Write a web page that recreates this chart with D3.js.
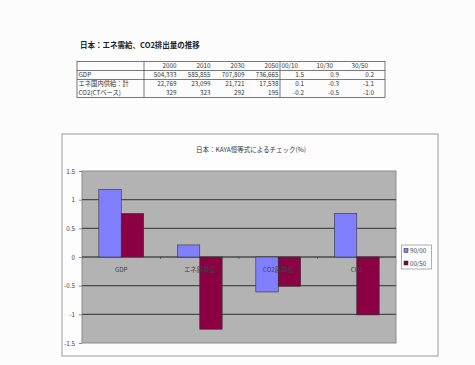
<!DOCTYPE html>
<html>
<head>
<meta charset="utf-8">
<script src="https://cdn.jsdelivr.net/npm/d3@7"></script>
<style>
  html, body { margin: 0; padding: 0; background: #fcfcfc; }
  svg { display: block; }
  text { font-family: "Noto Sans CJK JP", "Noto Sans", sans-serif; }
</style>
</head>
<body>
<svg id="root" width="475" height="365"></svg>
<script>
// ---- Table data ----
const tableTitle = "日本：エネ需給、CO2排出量の推移";
const yearHeaders = ["2000", "2010", "2030", "2050"];
const rateHeaders = ["00/10", "10/30", "30/50"];
const rowLabels = ["GDP", "エネ国内供給：計", "CO2(CTベース)"];
const rowValues = [
  ["504,333", "585,855", "707,809", "736,665"],
  ["22,769", "23,099", "21,721", "17,538"],
  ["329", "323", "292", "195"]
];
const rowRates = [
  ["1.5", "0.9", "0.2"],
  ["0.1", "-0.3", "-1.1"],
  ["-0.2", "-0.5", "-1.0"]
];

// ---- Chart data ----
const chartTitle = "日本：KAYA恒等式によるチェック(%)";
const categories = ["GDP", "エネ原単位", "CO2原単位", "CO2"];
const seriesNames = ["90/00", "00/50"];
const series9000 = [1.18, 0.21, -0.61, 0.76];
const series0050 = [0.76, -1.26, -0.51, -1.01];
const yTicks = [1.5, 1, 0.5, 0, -0.5, -1, -1.5];
const yTickLabels = ["1.5", "1", "0.5", "0", "-0.5", "-1", "-1.5"];
const seriesColors = ["#8080ff", "#8a0042"];

const svg = d3.select("#root");

// ---- Table ----
svg.append("text")
  .attr("x", 80).attr("y", 48)
  .attr("font-size", 7.5).attr("font-weight", "bold").attr("fill", "#222")
  .text(tableTitle);

const tb = svg.append("g").attr("font-size", 6.3).attr("fill", "#333");
const tLeft = 77, tRight = 385, tTop = 61.5;
const rowH = 9;
const colLabelEnd = 144, colYearEnd = 280;
const yearX = d3.scaleBand().domain(yearHeaders).range([colLabelEnd, colYearEnd]);
const rateX = d3.scaleBand().domain(rateHeaders).range([colYearEnd, tRight]);
const rowY = d3.scaleBand().domain(d3.range(rowLabels.length + 1)).range([tTop, tTop + rowH * 4]);

// borders
tb.append("rect")
  .attr("x", tLeft).attr("y", tTop)
  .attr("width", tRight - tLeft).attr("height", rowH * 4)
  .attr("fill", "none").attr("stroke", "#555").attr("stroke-width", 0.8);
[1, 2].forEach(i => {
  tb.append("line")
    .attr("x1", tLeft).attr("x2", tRight)
    .attr("y1", rowY(i)).attr("y2", rowY(i))
    .attr("stroke", "#555").attr("stroke-width", 0.8);
});
[colLabelEnd, colYearEnd].forEach(x => {
  tb.append("line")
    .attr("x1", x).attr("x2", x)
    .attr("y1", tTop).attr("y2", tTop + rowH * 4)
    .attr("stroke", "#555").attr("stroke-width", 0.8);
});

const baseOff = rowH * 0.75;
// header row
yearHeaders.forEach(h => {
  tb.append("text").attr("x", yearX(h) + yearX.bandwidth() - 1.5)
    .attr("y", rowY(0) + baseOff).attr("text-anchor", "end").text(h);
});
rateHeaders.forEach(h => {
  tb.append("text").attr("x", rateX(h) + 1.5)
    .attr("y", rowY(0) + baseOff).text(h);
});
// body rows
rowLabels.forEach((lab, i) => {
  const y = rowY(i + 1) + baseOff;
  tb.append("text").attr("x", tLeft + 1.5).attr("y", y).text(lab);
  rowValues[i].forEach((v, j) => {
    tb.append("text").attr("x", yearX(yearHeaders[j]) + yearX.bandwidth() - 1.5)
      .attr("y", y).attr("text-anchor", "end").text(v);
  });
  rowRates[i].forEach((v, j) => {
    tb.append("text").attr("x", rateX(rateHeaders[j]) + 24)
      .attr("y", y).attr("text-anchor", "end").text(v);
  });
});

// ---- Chart ----
const box = { x: 62, y: 134, w: 376, h: 222 };
svg.append("rect")
  .attr("x", box.x).attr("y", box.y).attr("width", box.w).attr("height", box.h)
  .attr("fill", "#fdfdfd").attr("stroke", "#9a9a9a").attr("stroke-width", 1);

svg.append("text")
  .attr("x", 251).attr("y", 151.5).attr("text-anchor", "middle")
  .attr("font-size", 6.5).attr("fill", "#333")
  .text(chartTitle);

const plot = { l: 82, r: 396, t: 171, b: 343 };
const x = d3.scaleBand().domain(categories).range([plot.l, plot.r]);
const xs = d3.scaleBand().domain(seriesNames).range([0, x.bandwidth()]).paddingOuter(0.75);
const y = d3.scaleLinear().domain([-1.5, 1.5]).range([plot.b, plot.t]);

svg.append("rect")
  .attr("x", plot.l).attr("y", plot.t)
  .attr("width", plot.r - plot.l).attr("height", plot.b - plot.t)
  .attr("fill", "#b3b3b3").attr("stroke", "#8c8c8c").attr("stroke-width", 1);

// gridlines
svg.append("g").selectAll("line")
  .data(yTicks.filter(v => v > -1.5 && v < 1.5))
  .join("line")
  .attr("x1", plot.l).attr("x2", plot.r)
  .attr("y1", d => y(d)).attr("y2", d => y(d))
  .attr("stroke", "#4a4a4a").attr("stroke-width", 1.3);

// y axis
const yAxis = svg.append("g")
  .attr("transform", `translate(${plot.l},0)`)
  .call(d3.axisLeft(y).tickValues(yTicks)
    .tickFormat((d, i) => yTickLabels[i]).tickSize(3).tickPadding(4));
yAxis.select(".domain").remove();
yAxis.selectAll(".tick line").attr("stroke", "#888");
yAxis.selectAll("text").attr("font-size", 6.3).attr("fill", "#444")
  .attr("font-family", "\"Noto Sans CJK JP\", sans-serif");

// bars
const allSeries = [series9000, series0050];
const bars = svg.append("g");
allSeries.forEach((vals, si) => {
  bars.selectAll(null)
    .data(vals.map((v, ci) => ({ v, c: categories[ci] })))
    .join("rect")
    .attr("x", d => x(d.c) + xs(seriesNames[si]))
    .attr("width", xs.bandwidth())
    .attr("y", d => y(Math.max(0, d.v)))
    .attr("height", d => Math.abs(y(d.v) - y(0)))
    .attr("fill", seriesColors[si])
    .attr("stroke", "#333").attr("stroke-width", 0.6);
});

// category axis tick marks at band boundaries
svg.append("g").selectAll("line")
  .data(categories.slice(1))
  .join("line")
  .attr("x1", d => x(d)).attr("x2", d => x(d))
  .attr("y1", y(0)).attr("y2", y(0) + 2)
  .attr("stroke", "#444").attr("stroke-width", 0.8);

// category labels
svg.append("g").selectAll("text")
  .data(categories)
  .join("text")
  .attr("x", d => x(d) + x.bandwidth() / 2)
  .attr("y", y(0) + 15)
  .attr("text-anchor", "middle")
  .attr("font-size", 6.3).attr("fill", "#444")
  .text(d => d);

// legend
const lg = svg.append("g");
lg.append("rect")
  .attr("x", 401.5).attr("y", 245).attr("width", 30).attr("height", 24)
  .attr("fill", "#fdfdfd").attr("stroke", "#9a9a9a").attr("stroke-width", 0.8);
seriesNames.forEach((name, i) => {
  const ly = 251 + i * 12.5;
  lg.append("rect")
    .attr("x", 404).attr("y", ly - 2.5).attr("width", 4).attr("height", 4)
    .attr("fill", seriesColors[i]).attr("stroke", "#222").attr("stroke-width", 0.5);
  lg.append("text")
    .attr("x", 410).attr("y", ly + 2).attr("font-size", 6.2).attr("fill", "#444")
    .text(name);
});
</script>
</body>
</html>
